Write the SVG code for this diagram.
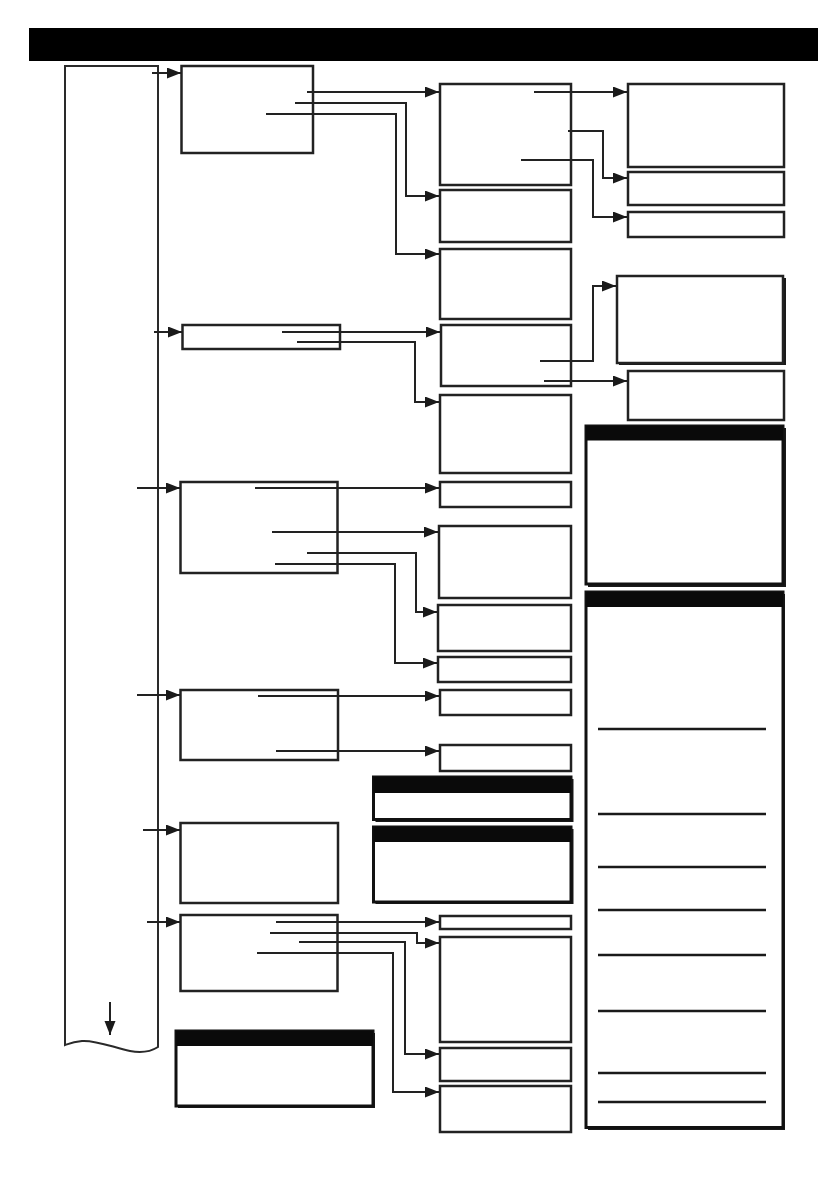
<svg xmlns="http://www.w3.org/2000/svg" width="839" height="1191" viewBox="0 0 839 1191">
<style>
.box{fill:#fff;stroke:#222;stroke-width:2.5}
.panel{fill:#fff;stroke:#111;stroke-width:3}
.shadow{fill:#1a1a1a;stroke:none}
.hdr{fill:#0a0a0a;stroke:none}
.conn{fill:none;stroke:#222;stroke-width:2}
.rule{stroke:#1a1a1a;stroke-width:2.5}
</style>
<defs>
<marker id="arr" markerUnits="userSpaceOnUse" markerWidth="15" markerHeight="12" refX="14" refY="5.5" orient="auto">
<path d="M0,0 L14,5.5 L0,11 Z" fill="#1a1a1a"/>
</marker>
</defs>
<rect width="839" height="1191" fill="#fff"/>
<rect id="title-bar" x="29" y="28" width="789" height="33" fill="#000"/>

<g id="timeline">
<path d="M65,1045 V66 H158 V1047 C150,1052 140,1053 130,1051 C112,1047 96,1040 82,1041 C73,1042 68,1044 65,1045 Z" fill="#fff" stroke="#2a2a2a" stroke-width="2"/>
</g>

<g id="n1"><rect class="box" x="181.5" y="66" width="131.5" height="87"/></g>
<g id="n2"><rect class="box" x="182.5" y="325" width="157.5" height="24"/></g>
<g id="n3"><rect class="box" x="180.5" y="482" width="157" height="91"/></g>
<g id="n4"><rect class="box" x="180.5" y="690" width="157.5" height="70"/></g>
<g id="n5"><rect class="box" x="180.5" y="823" width="157.5" height="80"/></g>
<g id="n6"><rect class="box" x="180.5" y="915" width="157" height="76"/></g>

<g id="a"><rect class="box" x="440" y="84" width="131" height="101"/></g>
<g id="b"><rect class="box" x="440" y="190" width="131" height="52"/></g>
<g id="c"><rect class="box" x="440" y="249" width="131" height="70"/></g>
<g id="d"><rect class="box" x="628" y="84" width="156" height="83"/></g>
<g id="e"><rect class="box" x="628" y="172" width="156" height="33"/></g>
<g id="f"><rect class="box" x="628" y="212" width="156" height="25"/></g>
<g id="g"><rect class="box" x="441" y="325" width="130" height="61"/></g>
<g id="h"><rect class="box" x="440" y="395" width="131" height="78"/></g>
<g id="i"><rect class="shadow" x="619" y="278" width="167" height="87"/><rect class="box" x="617" y="276" width="166" height="87"/></g>
<g id="j"><rect class="box" x="628" y="371" width="156" height="49"/></g>
<g id="m"><rect class="box" x="440" y="482" width="131" height="25"/></g>
<g id="n"><rect class="box" x="439" y="526" width="132" height="72"/></g>
<g id="o"><rect class="box" x="438" y="605" width="133" height="46"/></g>
<g id="p"><rect class="box" x="438" y="657" width="133" height="25"/></g>
<g id="q"><rect class="box" x="440" y="690" width="131" height="25"/></g>
<g id="r"><rect class="box" x="440" y="745" width="131" height="26"/></g>
<g id="u"><rect class="box" x="440" y="916" width="131" height="13"/></g>
<g id="v"><rect class="box" x="440" y="937" width="131" height="105"/></g>
<g id="w"><rect class="box" x="440" y="1048" width="131" height="33"/></g>
<g id="x"><rect class="box" x="440" y="1086" width="131" height="46"/></g>

<g id="panel-k">
<rect class="shadow" x="588" y="428" width="198" height="159"/>
<rect class="panel" x="586" y="426" width="197" height="158"/>
<rect class="hdr" x="586" y="426" width="197" height="14.5"/>
</g>
<g id="panel-l">
<rect class="shadow" x="588" y="594" width="197" height="536"/>
<rect class="panel" x="586" y="592" width="197" height="535.5"/>
<rect class="hdr" x="586" y="592" width="197" height="15"/>
<line class="rule" x1="598" y1="729" x2="766" y2="729"/>
<line class="rule" x1="598" y1="814" x2="766" y2="814"/>
<line class="rule" x1="598" y1="867" x2="766" y2="867"/>
<line class="rule" x1="598" y1="910" x2="766" y2="910"/>
<line class="rule" x1="598" y1="955" x2="766" y2="955"/>
<line class="rule" x1="598" y1="1011" x2="766" y2="1011"/>
<line class="rule" x1="598" y1="1073" x2="766" y2="1073"/>
<line class="rule" x1="598" y1="1102" x2="766" y2="1102"/>
</g>
<g id="panel-s">
<rect class="shadow" x="375.5" y="779" width="198" height="43"/>
<rect class="panel" x="373.5" y="777" width="197.5" height="42.5"/>
<rect class="hdr" x="373.5" y="777" width="197.5" height="16"/>
</g>
<g id="panel-t">
<rect class="shadow" x="375.5" y="829" width="198" height="75"/>
<rect class="panel" x="373.5" y="827" width="197.5" height="75"/>
<rect class="hdr" x="373.5" y="827" width="197.5" height="15"/>
</g>
<g id="panel-y">
<rect class="shadow" x="178" y="1033" width="197" height="75"/>
<rect class="panel" x="176" y="1031" width="197" height="75"/>
<rect class="hdr" x="176" y="1031" width="197" height="15"/>
</g>

<g id="connectors" class="conn" marker-end="url(#arr)">
<path d="M152,73 H181"/>
<path d="M154,332 H182"/>
<path d="M137,488 H180"/>
<path d="M137,695 H180"/>
<path d="M143,830 H180"/>
<path d="M147,922 H180"/>
<path d="M307,92 H439"/>
<path d="M295,103 H406 V196 H439"/>
<path d="M266,114 H396 V254 H439"/>
<path d="M534,92 H627"/>
<path d="M568,131 H603 V178 H627"/>
<path d="M521,160 H593 V217 H627"/>
<path d="M282,332 H440"/>
<path d="M297,342 H415 V402 H439"/>
<path d="M540,361 H593 V286 H616"/>
<path d="M544,381 H627"/>
<path d="M255,488 H439"/>
<path d="M272,532 H438"/>
<path d="M307,553 H416 V612 H437"/>
<path d="M275,564 H395 V663 H437"/>
<path d="M258,696 H439"/>
<path d="M276,751 H439"/>
<path d="M276,922 H439"/>
<path d="M270,933 H417 V943 H439"/>
<path d="M299,942 H405 V1054 H439"/>
<path d="M257,953 H393 V1092 H439"/>
<path d="M110,1002 V1035"/>
</g>
</svg>
